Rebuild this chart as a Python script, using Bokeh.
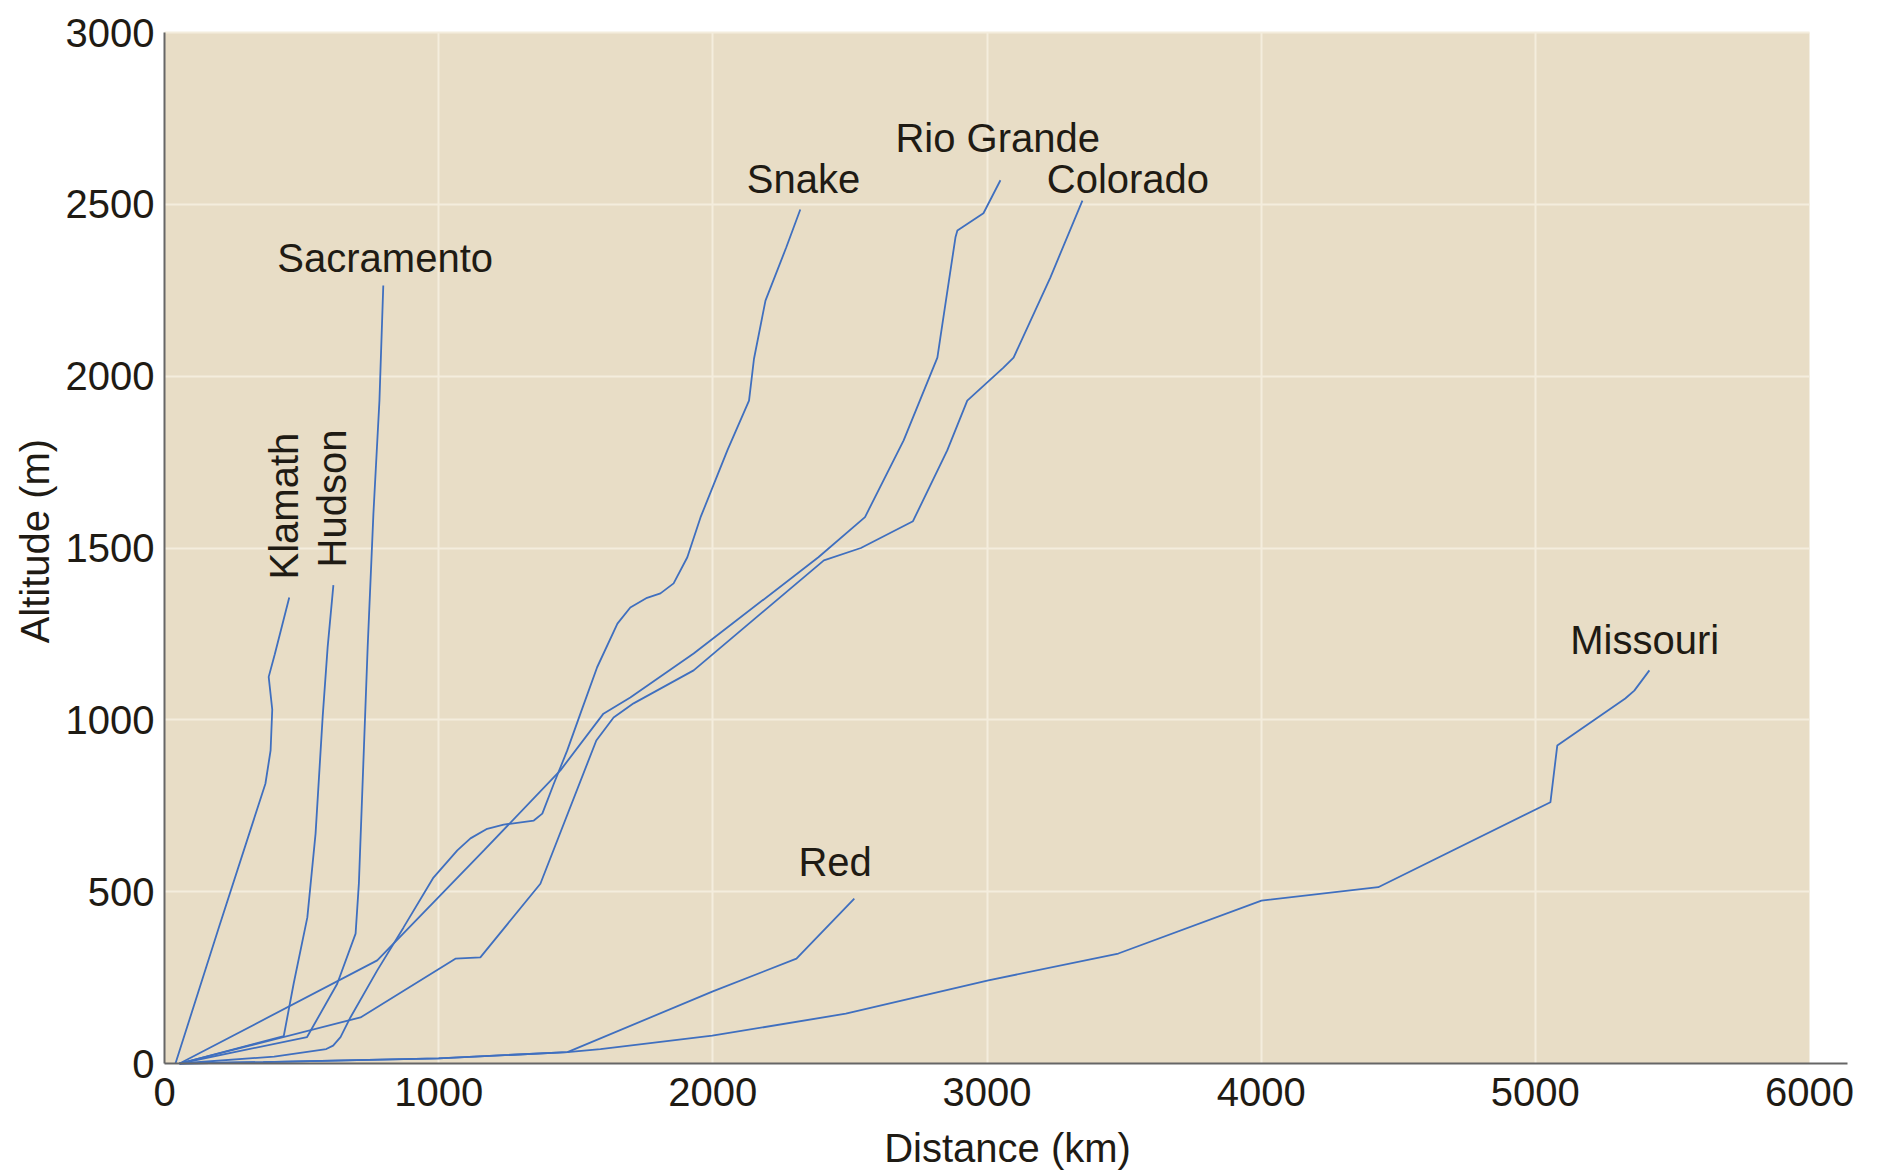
from bokeh.plotting import figure
from bokeh.models import Range1d, FixedTicker, BoxAnnotation, ColumnDataSource, Label
from bokeh.embed import file_html
from bokeh.resources import INLINE
from bokeh.core.properties import value
import math

# ---- data (distance km, altitude m) ----
x_ticks = [0, 1000, 2000, 3000, 4000, 5000, 6000]
y_ticks = [0, 500, 1000, 1500, 2000, 2500, 3000]

klamath_km = [40, 200, 368, 387, 393, 380, 402, 455]
klamath_m = [0, 400, 814, 911, 1030, 1125, 1190, 1356]

hudson_km = [55, 435, 471, 521, 551, 577, 595, 616]
hudson_m = [0, 80, 232, 425, 669, 1010, 1211, 1392]

sacramento_km = [55, 520, 630, 697, 709, 727, 741, 762, 784, 798]
sacramento_m = [0, 77, 232, 378, 524, 911, 1211, 1600, 1929, 2264]

snake_km = [55, 400, 590, 615, 642, 678, 776, 872, 981, 1068, 1116, 1177, 1237, 1347,
            1378, 1420, 1469, 1517, 1578, 1652, 1699, 1760, 1809, 1857, 1907, 1955,
            2053, 2132, 2150, 2192, 2268, 2319]
snake_m = [0, 20, 42, 52, 77, 134, 271, 396, 541, 620, 655, 683, 695, 707,
           727, 814, 911, 1018, 1153, 1280, 1327, 1355, 1368, 1397, 1473, 1589,
           1784, 1929, 2050, 2220, 2375, 2485]

rio_grande_km = [55, 776, 1165, 1444, 1601, 1699, 1930, 2385, 2555, 2696, 2819, 2830,
                 2885, 2892, 2987, 3049]
rio_grande_m = [0, 300, 620, 853, 1018, 1065, 1193, 1473, 1590, 1813, 2054, 2113,
                2404, 2424, 2474, 2570]

colorado_km = [55, 715, 1061, 1152, 1371, 1575, 1638, 1711, 1930, 2405, 2540, 2730,
               2855, 2928, 3060, 3097, 3231, 3348]
colorado_m = [0, 134, 305, 309, 523, 940, 1007, 1048, 1144, 1464, 1500, 1578,
              1784, 1929, 2025, 2054, 2287, 2511]

red_km = [55, 360, 1000, 1470, 2000, 2305, 2516]
red_m = [0, 4, 15, 33, 210, 305, 480]

missouri_km = [55, 360, 1000, 1470, 1590, 1998, 2485, 3005, 3479, 4001, 4427, 5055,
               5080, 5328, 5361, 5416]
missouri_m = [0, 4, 15, 33, 42, 81, 145, 242, 320, 474, 513, 760,
              925, 1062, 1085, 1144]

rivers = [
    (klamath_km, klamath_m), (hudson_km, hudson_m), (sacramento_km, sacramento_m),
    (snake_km, snake_m), (rio_grande_km, rio_grande_m), (colorado_km, colorado_m),
    (red_km, red_m), (missouri_km, missouri_m),
]

label_text = ["Klamath", "Hudson", "Sacramento", "Snake", "Rio Grande", "Colorado", "Red", "Missouri"]
label_x = [435, 612, 805, 2331, 3039, 3514, 2446, 5399]
label_y = [1622, 1644, 2343, 2575, 2693, 2575, 585, 1231]
label_angle = [math.pi / 2, math.pi / 2, 0, 0, 0, 0, 0, 0]

x_title = "Distance (km)"
y_title = "Altitude (m)"

# ---- styling / layout ----
BG = "#e8ddc6"
GRID = "#f4eddd"
LINE = "#3f6fbf"
TXT = "#1f1b14"
FONT = "Liberation Sans"

# whole canvas is the frame; axes are pinned at 0 so nothing gets clipped
FW, FH = 1870, 1175
X0_PX, Y0_PX = 164, 1063          # canvas position of (0 km, 0 m)
PX_PER_KM = 1645 / 6000.0
PX_PER_M = 1031 / 3000.0
x_lo = -X0_PX / PX_PER_KM
x_hi = (FW - X0_PX) / PX_PER_KM
y_hi = Y0_PX / PX_PER_M
y_lo = -(FH - Y0_PX) / PX_PER_M

p = figure(
    frame_width=FW, frame_height=FH,
    x_range=Range1d(x_lo, x_hi), y_range=Range1d(y_lo, y_hi),
    output_backend="svg", toolbar_location=None,
    min_border_left=0, min_border_top=0, min_border_right=0, min_border_bottom=0,
)
p.background_fill_color = "white"
p.border_fill_color = "white"
p.outline_line_color = None

bg = BoxAnnotation(left=0, right=6000, bottom=0, top=3000, fill_color=BG, fill_alpha=1.0,
                   line_color=None, level="image")
p.add_layout(bg)

for xs, ys in rivers:
    p.line(xs, ys, line_color=LINE, line_width=1.8)

src = ColumnDataSource(dict(x=label_x, y=label_y, text=label_text, angle=label_angle))
p.text(x="x", y="y", text="text", angle="angle", source=src,
       text_font=value(FONT), text_font_size="40px", text_align="center",
       text_baseline="middle", text_color=TXT)

p.xaxis.ticker = FixedTicker(ticks=x_ticks)
p.yaxis.ticker = FixedTicker(ticks=y_ticks)
for ax in (p.xaxis[0], p.yaxis[0]):
    ax.major_tick_line_color = None
    ax.minor_tick_line_color = None
    ax.axis_line_color = "#666666"
    ax.axis_line_width = 2
    ax.major_label_text_font = FONT
    ax.major_label_text_font_size = "40px"
    ax.major_label_text_color = TXT
    ax.fixed_location = 0
p.xaxis.bounds = (0, 6140)
p.yaxis.bounds = (0, 3000)
p.xaxis.major_label_standoff = 8
p.yaxis.major_label_standoff = 4

# axis titles
p.add_layout(Label(x=3075, y=-247, text=x_title, text_font=FONT, text_font_size="40px",
                   text_color=TXT, text_align="center", text_baseline="middle"))
p.add_layout(Label(x=-474, y=1520, text=y_title, angle=math.pi / 2, text_font=FONT,
                   text_font_size="40px", text_color=TXT, text_align="center",
                   text_baseline="middle"))

p.xgrid.ticker = FixedTicker(ticks=x_ticks[1:-1])
p.ygrid.ticker = FixedTicker(ticks=y_ticks[1:])
for g, cb in ((p.xgrid[0], (0, 3000)), (p.ygrid[0], (0, 6000))):
    g.grid_line_color = GRID
    g.grid_line_width = 2
    g.level = "underlay"
    if "cross_bounds" in g.properties():
        g.cross_bounds = cb

open("out.html", "w").write(file_html(p, INLINE))
